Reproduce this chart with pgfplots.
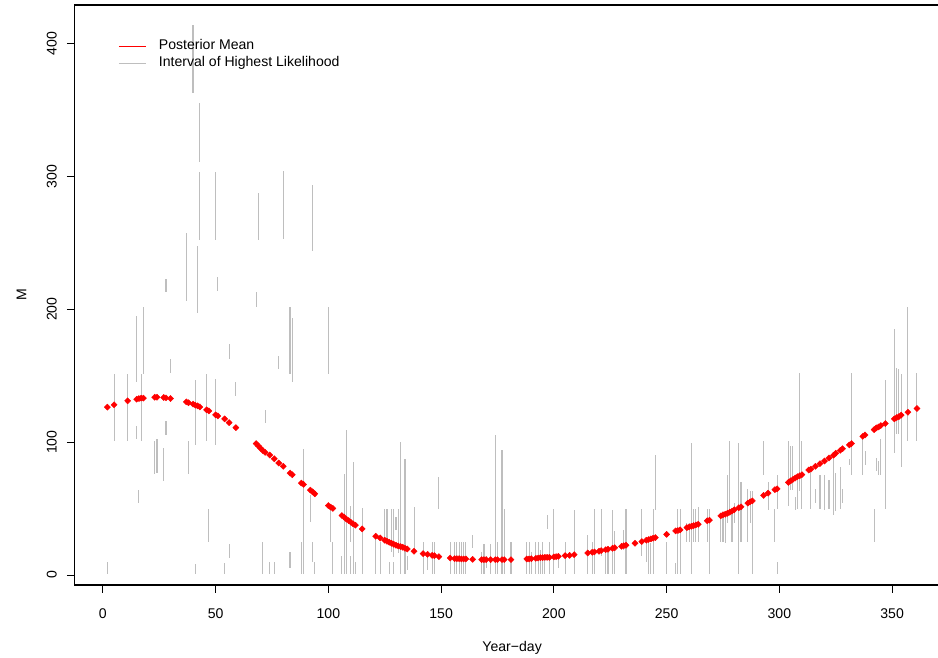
\documentclass[border=0pt]{standalone}
\usepackage{pgfplots}
\pgfplotsset{compat=1.18}
\usepackage{pgfplotstable}
\usepackage{fontspec}
\setmainfont{Liberation Sans}
\definecolor{segcol}{RGB}{190,190,190}
\definecolor{rred}{RGB}{255,0,0}

\pgfplotstableread{
x lo hi
2 1 10
5 100.6 151.5
11 100.6 151.5
15 145 195
15 102 112.5
16 54 64
17 100.6 151.5
18 151 202
23 76 100.6
24 77 102.6
27 71 95.6
28 105.7 116.2
28 213 223
30 151.7 162.3
37 206.3 257.4
38 76 100.6
40 363 414
41 97.6 146.4
41 1 8.3
42 196.8 247.3
43 311 355
43 252 303
46 100.6 151.5
47 25 50
50 252 303
50 97.6 147.2
51 213.8 224.4
54 1 9.3
56 162.8 173.6
56 12.6 23.4
59 134.6 145.4
68 202 212.6
69 252 287.5
71 1 25
72 114.5 124.5
74 1 10
76 1 10
78 155 165
80 253 304
83 151 202
83 5 17.6
84 145 193.7
88 1 25
89 1 94.8
92 40.2 60.4
93 244 293.6
93 10 25
94 1 10
100 151 202
101 25 50.3
102 1 25
106 1 14.3
107 1 76.2
108 1 109
110 25 51.6
110 1 14
111 1 85
112 1 10
115 1 50.3
121 1 27.7
123 1 25
125 25 50
126 25 50
127 1 10
128 17.6 50
129 13.8 50
129 1 10
130 34 44
131 16.4 50
132 1 100
134 1 87
135 4 14
138 17.6 51
142 1 25
144 4 16
146 1 25
147 1 25
149 49.6 73.7
154 1 25
156 1 25
157 1 25
158 1 25
159 1 25
160 1 25
161 1 25
164 20 30
168 1 17.6
169 1 23.4
170 5 14
172 1 23.4
174 1 105
175 1 25
177 1 94
178 1 50
181 1 25
188 1 25
189 1 25
190 1 17.6
192 1 25
193 1 25
194 1 19
195 1 25
196 1 14
197 35 45
198 1 25
200 1 50
202 5 14
205 1 25
209 1 49
215 1 30
217 1 25
218 1 50
221 14 50
223 1 20
224 1 20
226 1 48.8
227 1 33.5
231 19 34
232 1 50
239 14 50
241 10 24
242 1 24
243 1 24
244 1 49.6
245 49 90
250 1 25
254 1 9
255 1 50
256 1 50
259 25 39
260 25 39
261 1 99
262 25 50
263 25 50
264 25 51
268 25 50
269 1 50
274 25 45
275 25 45
276 24 45
277 39 75.5
278 49 100.6
279 25 49
280 39 54
282 1 99
283 25 70
286 25 65
287 39 63
288 1 63
293 75.5 100.6
295 49 70
298 25 50
299 50 75.5
299 1 10
304 51.6 100.6
305 64 97
306 64 97
307 49 59
308 50 71.5
309 63 152
310 50 100.6
314 50 78
316 54 65
318 50 75.5
320 49 75.5
322 50 71.5
324 45 87
325 48 77
327 50 81
328 54 65
331 83 87
332 75.5 152
337 75.5 102
338 83 93
342 25 50
343 78 88
344 75.5 85.5
345 75.5 102
347 50 147
351 92 185
352 106 156
353 106 155
354 81 151
357 100.6 202
361 100.6 151.7
}\segs

\pgfplotstableread{
x y
2 126.3
5 128.1
11 131.1
15 132.3
16 132.8
17 133.1
18 133.1
23 133.8
24 133.8
27 133.6
28 133.3
30 132.8
37 130.3
38 129.6
40 128.6
41 127.8
42 127.3
43 126.5
46 124.3
47 123.5
50 120.5
51 119.7
54 117.5
56 114.7
59 110.9
68 98.9
69 97.1
70 95.3
71 93.6
72 92.3
74 90.3
76 87.5
78 84.3
80 81.8
83 76.7
84 75.5
88 69.2
89 68.2
92 63.9
93 62.6
94 61.1
100 52.3
101 51.1
102 50.1
106 44.8
107 43.5
108 42.0
109 41.0
110 39.7
111 38.5
112 37.5
115 34.7
121 29.2
123 27.9
125 26.2
126 25.4
127 24.7
128 23.9
129 23.1
130 22.4
131 21.9
132 21.4
133 20.9
134 20.1
135 19.6
138 17.9
142 16.1
144 15.6
146 14.8
147 14.6
149 13.8
154 12.8
156 12.3
157 12.3
158 12.3
159 12.1
160 12.1
161 12.1
164 11.8
168 11.6
169 11.6
170 11.6
172 11.6
174 11.6
175 11.6
177 11.6
178 11.6
181 11.6
188 12.1
189 12.1
190 12.3
192 12.6
193 12.8
194 13.1
195 13.1
196 13.3
197 13.3
198 13.3
200 13.6
201 13.8
202 14.1
205 14.6
207 14.8
209 15.3
215 16.6
217 17.1
218 17.4
220 17.9
221 18.4
223 19.1
224 19.4
226 20.1
227 20.6
230 21.6
231 22.1
232 22.4
236 23.9
239 25.2
241 26.2
242 26.7
243 27.2
244 27.7
245 28.2
250 30.6
254 33.2
255 33.5
256 34.0
259 35.7
260 36.2
261 36.7
262 37.2
263 37.7
264 38.2
268 40.8
269 41.3
274 44.5
275 45.3
276 45.8
277 46.5
278 47.3
279 48.1
280 49.1
282 50.6
283 51.3
286 54.1
287 55.1
288 55.8
293 59.9
295 61.6
298 64.2
299 64.9
304 69.7
305 70.9
306 71.9
307 73.0
308 74.0
309 74.7
310 75.5
313 79.0
314 79.7
316 81.8
318 83.8
320 85.8
322 88.1
324 90.1
325 91.6
327 93.8
328 95.1
331 97.9
332 98.9
337 104.4
338 105.4
342 109.4
343 110.7
344 111.4
345 112.5
347 114.0
351 117.5
352 118.5
353 119.2
354 120.3
357 122.5
361 125.3
}\means

\begin{document}
\fontsize{9.7pt}{11.6pt}\selectfont
\begin{tikzpicture}
\begin{axis}[
  at={(0pt,0pt)}, anchor=south west,
  scale only axis, width=603pt, height=400pt,
  xmin=-12.36, xmax=375.36, ymin=-7.5, ymax=428.9,
  xtick={0,50,...,350}, ytick={0,100,...,400},
  tick pos=left, tick align=outside, major tick length=5.5pt,
  tick style={black, line width=0.7pt},
  axis line style={black, line width=0.7pt},
  /pgf/number format/assume math mode=true,
  /pgf/number format/1000 sep={},
  xticklabel style={anchor=north},
  xticklabel shift=7.7pt,
  yticklabel style={rotate=90, anchor=south},
  yticklabel shift=3.6pt,
  xlabel={Year\textminus day},
  ylabel={M},
  every axis x label/.style={at={(axis description cs:0.5,0)}, anchor=base, yshift=-46pt},
  every axis y label/.style={at={(axis description cs:0,0.5)}, xshift=-33.5pt, rotate=90, anchor=base},
  legend cell align=left,
  legend image code/.code={\draw[#1] (0pt,0pt) -- (18.6pt,0pt);},
  legend style={draw=none, fill=none, at={(rel axis cs:0,1)}, anchor=north west,
    xshift=30pt, yshift=-22.6pt, inner sep=0pt, outer sep=0pt,
    row sep=0pt, column sep=7.6pt,
    nodes={inner sep=1pt, text height=7pt, text depth=2.7pt}},
]
\addlegendimage{rred, line width=0.7pt}
\addlegendentry{Posterior Mean}
\addlegendimage{segcol, line width=0.7pt}
\addlegendentry{Interval of Highest Likelihood}

\addplot[draw=none, mark=none, forget plot,
  error bars/.cd, y dir=both, y explicit, error mark=none,
  error bar style={draw=segcol, line width=0.75pt}]
  table[x=x, y expr={(\thisrow{lo}+\thisrow{hi})/2},
        y error expr={(\thisrow{hi}-\thisrow{lo})/2}] {\segs};

\addplot[only marks, forget plot, mark=diamond*, mark size=2.1pt,
  mark options={xscale=1.33, draw=rred, fill=rred, line width=0.3pt}]
  table[x=x, y=y] {\means};
\end{axis}
\pgfresetboundingbox
\path[use as bounding box] (-51.7pt,-49.7pt) rectangle (595.2pt,403.45pt);
\end{tikzpicture}
\end{document}
